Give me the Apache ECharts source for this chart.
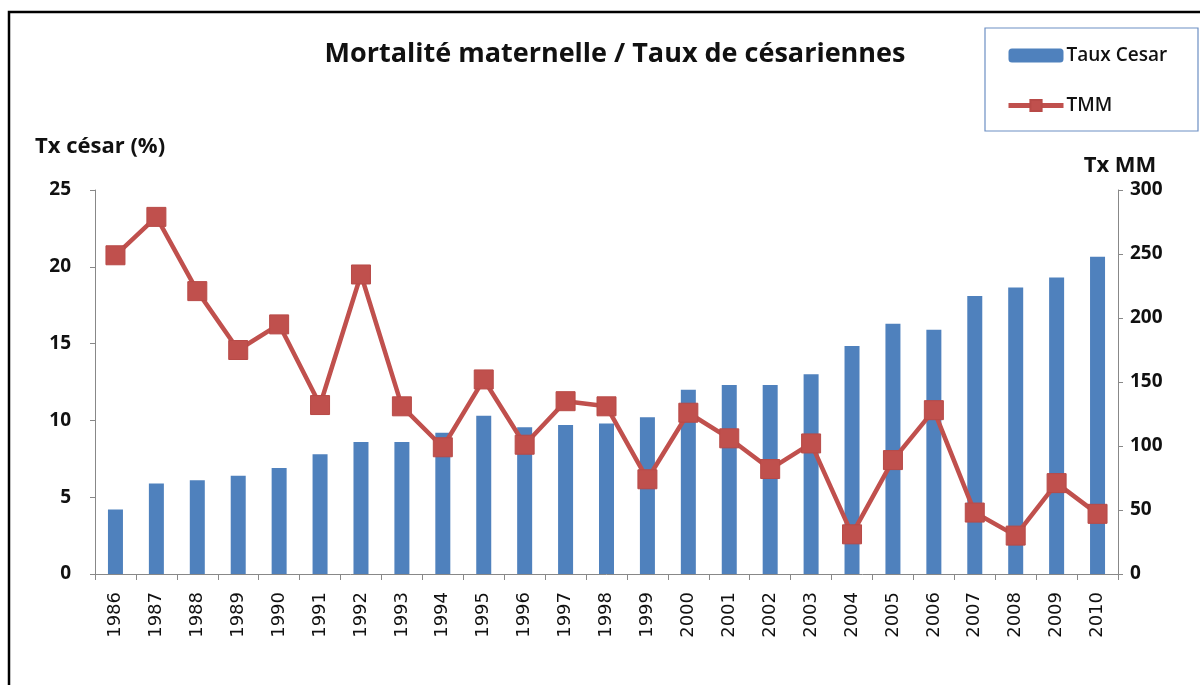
<!DOCTYPE html>
<html>
<head>
<meta charset="utf-8">
<script src="https://cdn.jsdelivr.net/npm/echarts@6/dist/echarts.min.js"></script>
<style>
  html, body { margin: 0; padding: 0; background: #fff; }
  #chart { width: 1200px; height: 685px; }
</style>
</head>
<body>
<div id="chart"></div>
<script>
// années
const years = ['1986', '1987', '1988', '1989', '1990', '1991', '1992', '1993', '1994', '1995', '1996', '1997', '1998',
  '1999', '2000', '2001', '2002', '2003', '2004', '2005', '2006', '2007', '2008', '2009', '2010'];

// taux de césariennes (%) - axe gauche
const tauxCesar = [4.2, 5.9, 6.1, 6.4, 6.9, 7.8, 8.6, 8.6, 9.2, 10.3, 9.55, 9.7, 9.8,
  10.2, 12.0, 12.3, 12.3, 13.0, 14.85, 16.3, 15.9, 18.1, 18.65, 19.3, 20.65];

// mortalité maternelle - axe droit
const tmm = [249, 279, 221, 175, 195, 132, 234, 131, 99, 152, 101, 135, 131,
  74, 126, 106, 82, 102, 31, 89, 128, 48, 30, 71, 47];

const FONT = '"Open Sans", sans-serif';

var myChart = echarts.init(document.getElementById('chart'));

const option = {
  animation: false,
  backgroundColor: '#fff',
  title: {
    text: 'Mortalité maternelle / Taux de césariennes',
    left: 610,
    textAlign: 'center',
    top: 36,
    textStyle: { fontFamily: FONT, fontSize: 27, fontWeight: 'bold', color: '#111' }
  },
  legend: {
    orient: 'vertical',
    left: 1006,
    top: 46,
    padding: 0,
    itemWidth: 55,
    itemHeight: 14,
    itemGap: 31,
    textStyle: { fontFamily: FONT, fontSize: 19, fontWeight: 600, color: '#111', padding: [0, 0, 0, -2] },
    data: [
      { name: 'Taux Cesar', itemStyle: { color: '#4f81bd' } },
      { name: 'TMM', lineStyle: { width: 5 } }
    ]
  },
  graphic: [
    // cadre extérieur
    { type: 'rect', shape: { x: 9, y: 12, width: 1200, height: 700 }, style: { fill: 'none', stroke: '#000', lineWidth: 2.5 } },
    // cadre légende
    { type: 'rect', shape: { x: 985, y: 28, width: 213, height: 103 }, style: { fill: 'none', stroke: '#6d8fc4', lineWidth: 1.2 } }
  ],
  grid: { left: 95, right: 82, top: 190, bottom: 111 },
  xAxis: {
    type: 'category',
    data: years,
    axisLine: { lineStyle: { color: '#888' } },
    axisTick: { show: true, length: 6, alignWithLabel: false, lineStyle: { color: '#888' } },
    axisLabel: { rotate: 90, margin: 18, fontFamily: '"DejaVu Sans", sans-serif', fontSize: 18, color: '#111', interval: 0 }
  },
  yAxis: [
    {
      type: 'value',
      min: 0, max: 25, interval: 5,
      name: 'Tx césar (%)',
      nameLocation: 'end',
      nameGap: 32,
      nameTextStyle: { fontFamily: FONT, fontSize: 22, fontWeight: 'bold', color: '#111', align: 'left', padding: [0, 0, 0, -60] },
      axisLine: { show: true, lineStyle: { color: '#888' } },
      axisTick: { show: true, length: 5, lineStyle: { color: '#888' } },
      splitLine: { show: false },
      axisLabel: { margin: 24, fontFamily: FONT, fontSize: 19, fontWeight: 'bold', color: '#111' }
    },
    {
      type: 'value',
      min: 0, max: 300, interval: 50,
      name: 'Tx MM',
      nameLocation: 'end',
      nameGap: 13,
      nameTextStyle: { fontFamily: FONT, fontSize: 22, fontWeight: 'bold', color: '#111', padding: [0, 0, 0, 4] },
      axisLine: { show: true, lineStyle: { color: '#888' } },
      axisTick: { show: true, length: 5, lineStyle: { color: '#888' } },
      splitLine: { show: false },
      axisLabel: { margin: 12, fontFamily: FONT, fontSize: 19, fontWeight: 'bold', color: '#111' }
    }
  ],
  series: [
    {
      name: 'Taux Cesar',
      type: 'bar',
      yAxisIndex: 0,
      barWidth: 15,
      itemStyle: { color: '#4f81bd' },
      data: tauxCesar
    },
    {
      name: 'TMM',
      type: 'line',
      yAxisIndex: 1,
      symbol: 'rect',
      symbolSize: 19,
      lineStyle: { color: '#c0504d', width: 4.5 },
      itemStyle: { color: '#c0504d', borderColor: '#b84a47', borderWidth: 1 },
      data: tmm
    }
  ]
};

myChart.setOption(option);
</script>
</body>
</html>
